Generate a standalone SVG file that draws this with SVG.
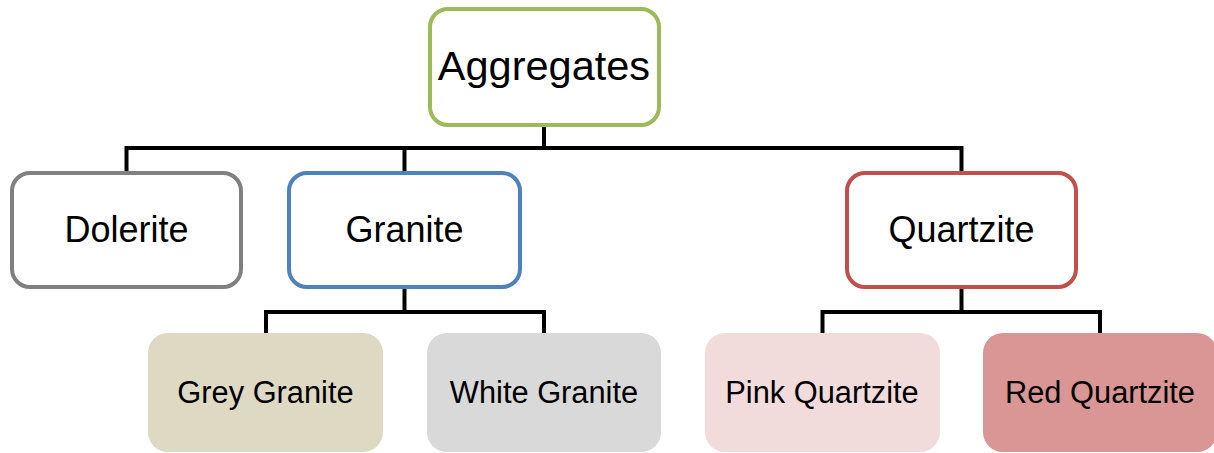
<svg xmlns="http://www.w3.org/2000/svg" width="1214" height="453" viewBox="0 0 1214 453">
<style>
text{font-family:"Liberation Sans",Arial,sans-serif;fill:#000;text-anchor:middle}
.t1{font-size:41.5px}
.t2{font-size:36px}
.t3{font-size:30.8px}
.mid{fill:#fff;stroke-width:4}
.leaf{stroke:none}
.conn{fill:none;stroke:#000;stroke-width:4}
</style>
<rect width="1214" height="453" fill="#fff"/>
<g id="connectors">
<path class="conn" d="M544 127V148M126.5 173V148H961.5V173M404.5 148V173"/>
<path class="conn" d="M404.5 289V312M266 333V312H544V333"/>
<path class="conn" d="M961.5 289V312M822.5 333V312H1100V333"/>
</g>
<g id="aggregates">
<rect class="mid" x="430" y="9" width="229" height="116" rx="18" stroke="#9BBB59"/>
<text class="t1" x="544" y="80">Aggregates</text>
</g>
<g id="dolerite">
<rect class="mid" x="12" y="173" width="229" height="114" rx="18" stroke="#808080"/>
<text class="t2" x="126.5" y="242">Dolerite</text>
</g>
<g id="granite">
<rect class="mid" x="289" y="173" width="231" height="114" rx="18" stroke="#4F81BD"/>
<text class="t2" x="404.5" y="242">Granite</text>
</g>
<g id="quartzite">
<rect class="mid" x="847" y="173" width="229" height="114" rx="18" stroke="#C0504D"/>
<text class="t2" x="961.5" y="242">Quartzite</text>
</g>
<g id="grey-granite">
<rect class="leaf" x="148" y="333" width="235" height="119" rx="20" fill="#DDD9C3"/>
<text class="t3" x="265.5" y="403">Grey Granite</text>
</g>
<g id="white-granite">
<rect class="leaf" x="427" y="333" width="234" height="119" rx="20" fill="#D9D9D9"/>
<text class="t3" x="544" y="403">White Granite</text>
</g>
<g id="pink-quartzite">
<rect class="leaf" x="705" y="333" width="235" height="119" rx="20" fill="#F2DCDB"/>
<text class="t3" x="822" y="403">Pink Quartzite</text>
</g>
<g id="red-quartzite">
<rect class="leaf" x="983" y="333" width="234" height="119" rx="20" fill="#D99694"/>
<text class="t3" x="1100" y="403">Red Quartzite</text>
</g>
</svg>
